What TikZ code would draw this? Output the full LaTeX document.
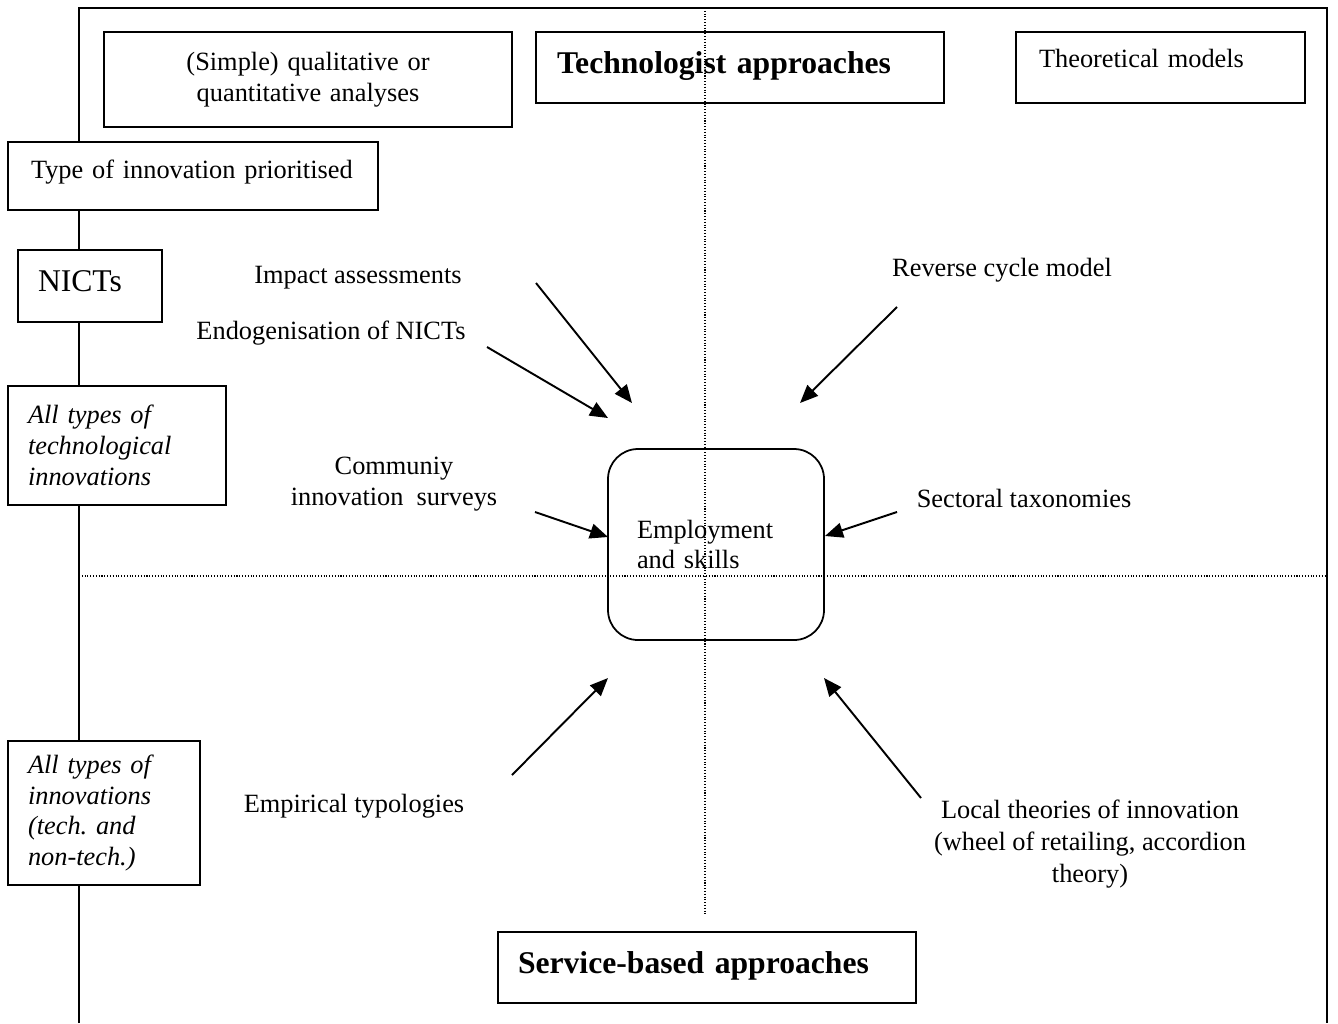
\documentclass[tikz,border=0pt]{standalone}
\usepackage{fontspec}
\setmainfont{Liberation Serif}
\usetikzlibrary{arrows.meta}
\frenchspacing

\begin{document}
\begin{tikzpicture}[
    every node/.style={font=\fontsize{15}{17.6}\selectfont, inner sep=0pt},
    box/.style={draw, fill=white, line width=1pt, inner xsep=0.4cm, align=left},
    head/.style={font=\fontsize{18}{21}\selectfont\bfseries},
    slant/.style={font=\fontsize{15}{17.6}\selectfont\itshape},
    arr/.style={line width=1.1pt, -{Triangle[length=3.6mm, width=3mm]}},
    guide/.style={densely dotted, line width=0.6pt}
  ]
    \useasboundingbox (0,0) rectangle (26.76,-20.46);

    % open frame
    \coordinate (fbl) at (1.58,-20.46);
    \coordinate (ftl) at (1.58,-0.16);
    \coordinate (ftr) at (26.54,-0.16);
    \coordinate (fbr) at (26.54,-20.46);
    \draw[line width=1pt] (fbl) -- (ftl) -- (ftr) -- (fbr);

    % top row
    \node[box, inner xsep=0pt, text width=8.16cm, align=center, minimum height=1.90cm] (simple) at (6.16,-1.59) {(Simple) qualitative or\\quantitative analyses};
    \node[box, head, inner xsep=0.42cm, text width=7.32cm, minimum height=1.42cm, text depth=0.20cm] (tech) at (14.80,-1.35) {Technologist approaches};
    \node[box, inner xsep=0.46cm, text width=4.86cm, minimum height=1.42cm, text depth=0.38cm] (theory) at (23.21,-1.35) {Theoretical models};

    % left column
    \node[box, inner xsep=0.46cm, text width=6.48cm, minimum height=1.36cm, text depth=0.28cm] (type) at (3.86,-3.52) {Type of innovation prioritised};
    \node[box, font=\fontsize{18}{21}\selectfont, text width=2.08cm, minimum height=1.44cm, text depth=0.2cm] (nicts) at (1.80,-5.72) {NICTs};
    \node[box, slant, text width=3.56cm, minimum height=2.38cm] (alltech) at (2.34,-8.91) {All types of\\technological\\innovations};
    \node[box, slant, text width=3.04cm, minimum height=2.88cm] (allinno) at (2.08,-16.26) {All types of\\innovations\\(tech. and\\non-tech.)};

    % bottom
    \node[box, head, text width=7.56cm, minimum height=1.42cm, text depth=0.20cm] (service) at (14.14,-19.35) {Service-based approaches};

    % centre
    \node[box, rounded corners=0.6cm, inner xsep=0.58cm, text width=3.16cm, minimum height=3.82cm] (employ) at (14.32,-10.89) {Employment\\and skills};

    % labels
    \node (impact) at (7.16,-5.56) {Impact assessments};
    \node (endo) at (6.62,-6.66) {Endogenisation of NICTs};
    \node (reverse) at (20.04,-5.40) {Reverse cycle model};
    \node[align=center] (cis) at (7.88,-9.68) {Communiy\\innovation~~surveys};
    \node (sector) at (20.48,-9.96) {Sectoral taxonomies};
    \node (empirical) at (7.08,-16.12) {Empirical typologies};
    \node[align=center, font=\fontsize{15}{18.2}\selectfont] (local) at (21.80,-16.88) {Local theories of innovation\\(wheel of retailing, accordion\\theory)};

    % axes
    \coordinate (vtop) at (14.10,-0.16);
    \coordinate (vbot) at (14.10,-18.32);
    \coordinate (hleft) at (1.58,-11.52);
    \coordinate (hright) at (26.54,-11.52);
    \draw[guide] (vtop) -- (vbot);
    \draw[guide] (hleft) -- (hright);

    % arrows
    \coordinate (impact s) at (10.72,-5.66);
    \coordinate (impact t) at (12.64,-8.06);
    \coordinate (endo s) at (9.74,-6.94);
    \coordinate (endo t) at (12.16,-8.36);
    \coordinate (reverse s) at (17.94,-6.14);
    \coordinate (reverse t) at (16.00,-8.06);
    \coordinate (cis s) at (10.70,-10.24);
    \coordinate (cis t) at (12.16,-10.74);
    \coordinate (sector s) at (17.94,-10.24);
    \coordinate (sector t) at (16.50,-10.72);
    \coordinate (empirical s) at (10.24,-15.50);
    \coordinate (empirical t) at (12.16,-13.56);
    \coordinate (local s) at (18.42,-15.96);
    \coordinate (local t) at (16.48,-13.56);

    \draw[arr] (impact s) -- (impact t);
    \draw[arr] (endo s) -- (endo t);
    \draw[arr] (reverse s) -- (reverse t);
    \draw[arr] (cis s) -- (cis t);
    \draw[arr] (sector s) -- (sector t);
    \draw[arr] (empirical s) -- (empirical t);
    \draw[arr] (local s) -- (local t);
\end{tikzpicture}
\end{document}
